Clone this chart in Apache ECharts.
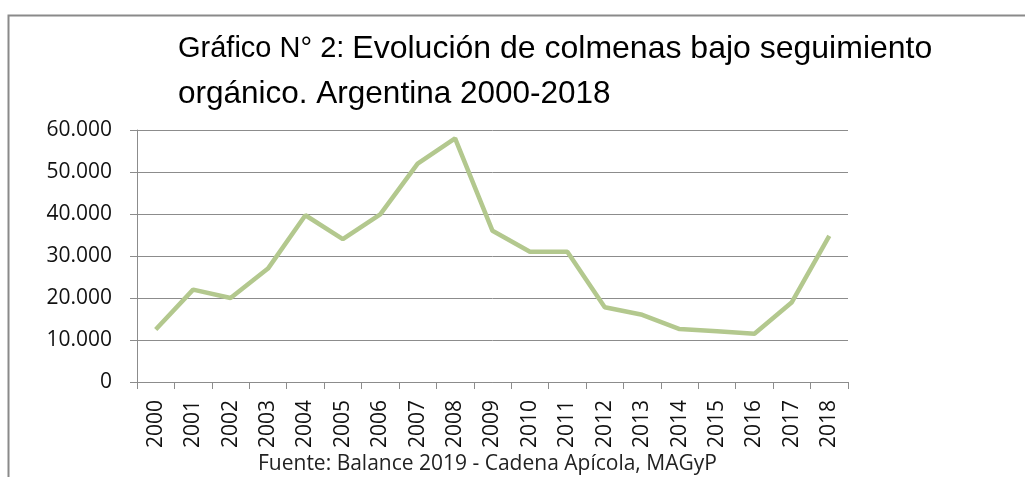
<!DOCTYPE html>
<html>
<head>
<meta charset="UTF-8">
<title>Colmenas orgánicas</title>
<script src="https://cdn.jsdelivr.net/npm/echarts@6/dist/echarts.min.js"></script>
<style>
  html, body { margin: 0; padding: 0; background: #fff; }
  #chart { width: 1025px; height: 477px; }
</style>
</head>
<body>
<div id="chart"></div>
<script>
// datos
var years = ['2000','2001','2002','2003','2004','2005','2006','2007','2008','2009',
             '2010','2011','2012','2013','2014','2015','2016','2017','2018'];
var colmenas = [12500, 22000, 20000, 27000, 39700, 34000, 39900, 52000, 58000, 36000,
                31000, 31000, 17800, 16000, 12600, 12100, 11500, 19000, 34800];
var yTicks = [0, 10000, 20000, 30000, 40000, 50000, 60000];

var chart = echarts.init(document.getElementById('chart'));

function fmtMiles(v) {
  // 10000 -> 10.000
  return String(v).replace(/\B(?=(\d{3})+(?!\d))/g, '.');
}

var option = {
  backgroundColor: '#fff',
  animation: false,
  textStyle: { fontFamily: 'Open Sans' },
  graphic: [
    { // marco
      type: 'rect', left: 6, top: 13,
      shape: { width: 1100, height: 600 },
      style: { fill: 'none', stroke: '#8a8a8a', lineWidth: 2 }
    },
    {
      type: 'text', left: 178, top: 33,
      style: {
        rich: {
          a: { fontFamily: 'Liberation Sans', fontSize: 29, fill: '#000' },
          b: { fontFamily: 'Liberation Sans', fontSize: 32, fill: '#000' }
        },
        text: '{a|Gráfico N° 2: }{b|Evolución de colmenas bajo seguimiento}',
        fill: '#000'
      }
    },
    {
      type: 'text', left: 178, top: 78,
      style: {
        text: 'orgánico. Argentina 2000-2018',
        fontFamily: 'Liberation Sans', fontSize: 31.5, fill: '#000'
      }
    },
    {
      type: 'text', left: 258, top: 454,
      style: {
        text: 'Fuente: Balance 2019 - Cadena Apícola, MAGyP',
        fontFamily: 'Open Sans', fontSize: 21, fill: '#222'
      }
    }
  ],
  grid: { left: 137, right: 177, top: 130, bottom: 95, containLabel: false },
  xAxis: {
    type: 'category',
    data: years,
    boundaryGap: true,
    axisLine: { lineStyle: { color: '#8c8c8c', width: 1 } },
    axisTick: { show: true, length: 7, alignWithLabel: false, lineStyle: { color: '#8c8c8c' } },
    axisLabel: {
      rotate: 90, interval: 0, margin: 18,
      color: '#111', fontSize: 21, fontFamily: 'Open Sans'
    }
  },
  yAxis: {
    type: 'value',
    min: yTicks[0],
    max: yTicks[yTicks.length - 1],
    interval: 10000,
    axisLine: { show: true, lineStyle: { color: '#8c8c8c', width: 1 } },
    axisTick: { show: true, length: 7, lineStyle: { color: '#8c8c8c' } },
    splitLine: { lineStyle: { color: '#8c8c8c', width: 1 } },
    axisLabel: {
      margin: 25, color: '#111', fontSize: 21, fontFamily: 'Open Sans',
      formatter: function (v) { return fmtMiles(v); }
    }
  },
  series: [{
    type: 'line',
    data: colmenas,
    symbol: 'none',
    lineStyle: { color: '#b3c88e', width: 4.5 },
    smooth: false
  }]
};

chart.setOption(option);
</script>
</body>
</html>
